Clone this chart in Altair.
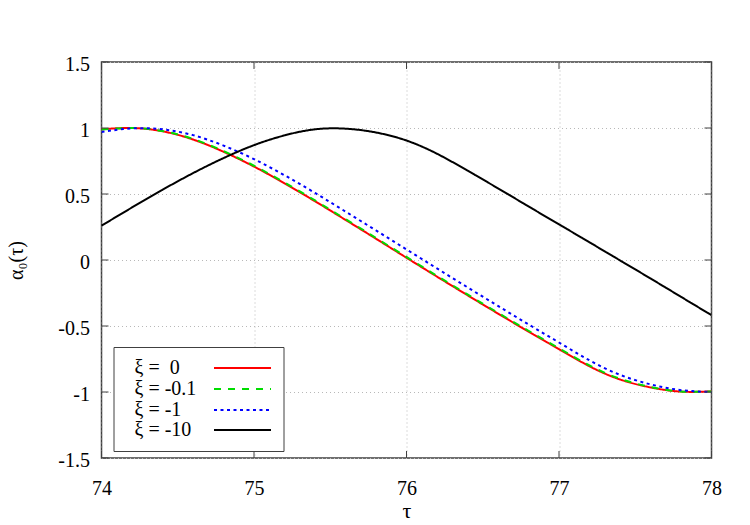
import altair as alt
import pandas as pd

# ---- data ----
tau = [74.0, 74.2, 74.4, 74.6, 74.8, 75.0, 75.2, 75.4, 75.6, 75.8, 76.0,
       76.2, 76.4, 76.6, 76.8, 77.0, 77.2, 77.4, 77.6, 77.8, 78.0]
xi_0 = [0.990, 1.000, 0.975, 0.913, 0.820, 0.708, 0.581, 0.445, 0.304, 0.161, 0.017,
        -0.126, -0.267, -0.406, -0.542, -0.675, -0.805, -0.905, -0.965, -0.997, -0.995]
xi_m01 = [0.988, 1.000, 0.977, 0.917, 0.825, 0.714, 0.587, 0.451, 0.310, 0.167, 0.023,
          -0.120, -0.261, -0.400, -0.536, -0.669, -0.799, -0.900, -0.962, -0.996, -0.996]
xi_m1 = [0.970, 0.997, 0.990, 0.946, 0.867, 0.764, 0.642, 0.508, 0.367, 0.224, 0.080,
         -0.064, -0.207, -0.348, -0.488, -0.625, -0.760, -0.870, -0.942, -0.986, -1.000]
xi_m10 = [0.260, 0.398, 0.532, 0.658, 0.772, 0.870, 0.944, 0.990, 0.995, 0.966, 0.905,
          0.805, 0.677, 0.543, 0.406, 0.270, 0.134, -0.003, -0.140, -0.279, -0.418]

series_labels = ["ξ =\u00a0\u00a00", "ξ = -0.1", "ξ = -1", "ξ = -10"]
series_values = [xi_0, xi_m01, xi_m1, xi_m10]
series_colors = ["#ff0000", "#00dd00", "#0000ff", "#000000"]
series_dash = [[1, 0], [7, 7], [3, 3.5], [1, 0]]

x_ticks = [74, 75, 76, 77, 78]
y_ticks = [-1.5, -1.0, -0.5, 0.0, 0.5, 1.0, 1.5]

W, H = 610, 396
FONT = "Liberation Serif, Times New Roman, Times, DejaVu Serif, serif"
FRAME = "#404040"

xscale = alt.Scale(domain=[74, 78], nice=False, zero=False)
yscale = alt.Scale(domain=[-1.5, 1.5], nice=False, zero=False)

x_axis = alt.Axis(values=x_ticks, labelExpr="toString(datum.value)", title="τ",
                  grid=True, gridDash=[1, 3], gridColor="#b8b8b8", ticks=False, domain=False,
                  labelFlush=False, labelOverlap=False,
                  labelFont=FONT, labelFontSize=20, labelColor="black", labelPadding=20,
                  titleFont=FONT, titleFontSize=22, titleFontWeight="normal", titleColor="black",
                  titleBaseline="middle", titleY=52)
y_axis = alt.Axis(values=y_ticks, labelExpr="toString(datum.value)", title="α₀(τ)",
                  grid=True, gridDash=[1, 3], gridColor="#b8b8b8", ticks=False, domain=False,
                  labelFlush=False, labelOverlap=False,
                  labelFont=FONT, labelFontSize=20, labelColor="black", labelPadding=12,
                  labelOffset=2,
                  titleFont=FONT, titleFontSize=20, titleFontWeight="normal", titleColor="black",
                  titleAngle=-90, titleBaseline="middle", titleX=-85, titleY=H / 2)

layers = []
for i, (lab, vals) in enumerate(zip(series_labels, series_values)):
    df = pd.DataFrame({"tau": tau, "alpha": vals})
    layers.append(
        alt.Chart(df).mark_line(color=series_colors[i], strokeDash=series_dash[i],
                                strokeWidth=2, interpolate="natural", clip=True)
        .encode(x=alt.X("tau:Q", scale=xscale, axis=x_axis),
                y=alt.Y("alpha:Q", scale=yscale, axis=y_axis))
    )

# inward tick marks on all four sides
xt = pd.DataFrame({"tau": x_ticks})
yt = pd.DataFrame({"alpha": y_ticks})
tick_len = 7
for (y1, y2) in [(H, H - tick_len), (0, tick_len)]:
    layers.append(alt.Chart(xt).mark_rule(color=FRAME, strokeWidth=1).encode(
        x=alt.X("tau:Q", scale=xscale, axis=x_axis), y=alt.value(y1), y2=alt.value(y2)))
for (x1, x2) in [(0, tick_len), (W, W - tick_len)]:
    layers.append(alt.Chart(yt).mark_rule(color=FRAME, strokeWidth=1).encode(
        y=alt.Y("alpha:Q", scale=yscale, axis=y_axis), x=alt.value(x1), x2=alt.value(x2)))

# legend box
one = pd.DataFrame({"a": [0]})
layers.append(alt.Chart(one).mark_rect(fill="white", stroke=FRAME, strokeWidth=1).encode(
    x=alt.value(12.5), x2=alt.value(182.5), y=alt.value(285.5), y2=alt.value(389.5)))
leg_y = [306, 327, 348, 368]
for i, lab in enumerate(series_labels):
    layers.append(alt.Chart(pd.DataFrame({"t": [lab]})).mark_text(
        font=FONT, fontSize=20, align="left", baseline="middle", color="black").encode(
        text="t:N", x=alt.value(33), y=alt.value(leg_y[i])))
    layers.append(alt.Chart(one).mark_rule(color=series_colors[i], strokeDash=series_dash[i],
                                           strokeWidth=2).encode(
        x=alt.value(112.5), x2=alt.value(169.5), y=alt.value(leg_y[i])))

chart = alt.layer(*layers).properties(
    width=W, height=H,
    padding={"left": 101.5, "top": 62, "right": 38.5, "bottom": 67},
    autosize=alt.AutoSizeParams(type="none"),
    background="white",
).configure_view(stroke=FRAME, strokeWidth=1.5)

chart.save("out.html", embed_options={"renderer": "svg", "actions": False})
